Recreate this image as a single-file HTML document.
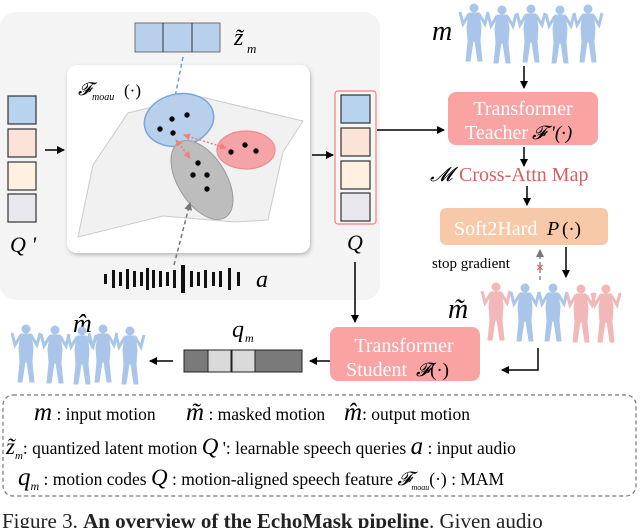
<!DOCTYPE html><html><head><meta charset="utf-8"><style>body{margin:0;background:#fff}svg{display:block}text{font-family:"Liberation Serif",serif}</style></head><body>
<svg width="640" height="528" viewBox="0 0 640 528" xmlns="http://www.w3.org/2000/svg">
<defs>
<marker id="ah" markerWidth="8" markerHeight="8" refX="7" refY="4" orient="auto" markerUnits="userSpaceOnUse"><path d="M0,0 L8,4 L0,8 z" fill="#000"/></marker>
<marker id="ab" markerWidth="8" markerHeight="8" refX="7" refY="4" orient="auto" markerUnits="userSpaceOnUse"><path d="M0,0 L8,4 L0,8 z" fill="#6a9be0"/></marker>
<marker id="ag" markerWidth="8" markerHeight="8" refX="7" refY="4" orient="auto" markerUnits="userSpaceOnUse"><path d="M0,0 L8,4 L0,8 z" fill="#777"/></marker>
<marker id="ar" markerWidth="7" markerHeight="7" refX="6" refY="3.5" orient="auto-start-reverse" markerUnits="userSpaceOnUse"><path d="M0,0 L7,3.5 L0,7 z" fill="#f08080"/></marker>
<filter id="sh"><feDropShadow dx="1" dy="2" stdDeviation="2" flood-opacity="0.25"/></filter>
<g id="fig"><circle cx="0" cy="4" r="4"/><path d="M-5,9 h10 l2,14 l-1,14 l2,20 h-4 l-3,-20 h-2 l-3,20 h-4 l2,-20 l-1,-14 z"/><path d="M-5,10 l-6,10 l-3,-12 M5,10 l6,10 l3,-12" stroke-width="3" fill="none"/></g>
</defs>
<rect x="0" y="12" width="380" height="288" rx="16" fill="#f4f4f4"/>
<rect x="135" y="23" width="85" height="29" fill="#b8d0ec" stroke="#555" stroke-width="0.8"/>
<line x1="163" y1="23" x2="163" y2="52" stroke="#333"/><line x1="192" y1="23" x2="192" y2="52" stroke="#333"/>
<text x="234" y="45" font-size="24" font-style="italic">z̃</text><text x="247" y="53" font-size="13" font-style="italic">m</text>
<rect x="67" y="65" width="243" height="188" rx="10" fill="#fff" filter="url(#sh)"/>
<text x="78" y="95" font-size="18" font-style="italic">𝓕</text><text x="92" y="100" font-size="10" font-style="italic">moau</text><text x="124" y="96" font-size="17">(·)</text>
<polygon points="78,237 93,165 128,113 197,96 303,121 283,152 268,220 235,222 163,216" fill="#f1f1f1" stroke="#ccc"/>
<line x1="183" y1="57" x2="174" y2="102" stroke="#6a9be0" stroke-width="1.5" stroke-dasharray="4,3" marker-end="url(#ab)"/>
<ellipse cx="179" cy="120" rx="35" ry="26" transform="rotate(-12 179 120)" fill="#b8d0ec" stroke="#7aa4dc" stroke-width="1.5"/>
<ellipse cx="246" cy="150" rx="29" ry="19" fill="#f4a4a6" stroke="#ee8a8e" stroke-width="1.2"/>
<ellipse cx="202" cy="180" rx="24" ry="44" transform="rotate(-32 202 180)" fill="#bdbdbd" stroke="#999"/>
<line x1="184" y1="135" x2="226" y2="148" stroke="#f08080" stroke-width="1.5" stroke-dasharray="2,2" marker-start="url(#ar)" marker-end="url(#ar)"/>
<line x1="176" y1="140" x2="190" y2="158" stroke="#f08080" stroke-width="1.5" stroke-dasharray="2,2" marker-start="url(#ar)" marker-end="url(#ar)"/>
<g fill="#000"><circle cx="172" cy="119" r="2.7"/><circle cx="187" cy="115" r="2.7"/><circle cx="160" cy="129" r="2.7"/><circle cx="173" cy="133" r="2.7"/>
<circle cx="231" cy="152" r="2.7"/><circle cx="245" cy="145" r="2.7"/><circle cx="256" cy="151" r="2.7"/>
<circle cx="198" cy="163" r="2.7"/><circle cx="193" cy="175" r="2.7"/><circle cx="207" cy="175" r="2.7"/><circle cx="207" cy="189" r="2.7"/></g>
<line x1="174" y1="265" x2="190" y2="203" stroke="#777" stroke-width="1.5" stroke-dasharray="4,3" marker-end="url(#ag)"/>
<g fill="#111"><rect x="104" y="274" width="3" height="10"/><rect x="112" y="270" width="3" height="18"/><rect x="119" y="272" width="3" height="14"/><rect x="126" y="269" width="3" height="20"/><rect x="133" y="271" width="3" height="16"/><rect x="140" y="272" width="3" height="14"/><rect x="146" y="268" width="3" height="22"/><rect x="152" y="270" width="3" height="18"/><rect x="159" y="271" width="3" height="16"/><rect x="166" y="272" width="3" height="14"/><rect x="173" y="270" width="3" height="18"/><rect x="181" y="265" width="4" height="28"/><rect x="190" y="271" width="3" height="16"/><rect x="197" y="272" width="3" height="14"/><rect x="204" y="270" width="3" height="18"/><rect x="212" y="272" width="3" height="14"/><rect x="219" y="271" width="3" height="16"/><rect x="228" y="268" width="3" height="22"/><rect x="237" y="272" width="3" height="14"/></g>
<text x="256" y="287" font-size="24" font-style="italic">a</text>
<g stroke="#333" stroke-width="1.2"><rect x="8" y="96" width="28" height="28" fill="#b8d3ee"/><rect x="8" y="129" width="28" height="28" fill="#fbe3d8"/><rect x="8" y="162" width="28" height="28" fill="#fff0df"/><rect x="8" y="194" width="28" height="28" fill="#e8e8ee"/></g>
<text x="10" y="252" font-size="22" font-style="italic">Q '</text>
<line x1="45" y1="150" x2="64" y2="150" stroke="#000" stroke-width="1.5" marker-end="url(#ah)"/>
<line x1="312" y1="155" x2="333" y2="155" stroke="#000" stroke-width="1.5" marker-end="url(#ah)"/>
<rect x="335" y="91" width="41" height="133" rx="3" fill="#f6f6f6" stroke="#f08080" stroke-width="1.2"/>
<g stroke="#333" stroke-width="1.2"><rect x="341" y="95" width="29" height="28" fill="#b8d3ee"/><rect x="341" y="128" width="29" height="28" fill="#fbe3d8"/><rect x="341" y="161" width="29" height="28" fill="#fff0df"/><rect x="341" y="193" width="29" height="28" fill="#e8e8ee"/></g>
<text x="347" y="250" font-size="22" font-style="italic">Q</text>
<line x1="377" y1="130" x2="444" y2="130" stroke="#000" stroke-width="1.5" marker-end="url(#ah)"/>
<line x1="355" y1="262" x2="355" y2="322" stroke="#000" stroke-width="1.5" marker-end="url(#ah)"/>
<text x="432" y="40" font-size="28" font-style="italic">m</text>
<g fill="#a9c6ea" stroke="#a9c6ea"><use href="#fig" transform="translate(474,4)"/><use href="#fig" transform="translate(502,6)"/><use href="#fig" transform="translate(531,5)"/><use href="#fig" transform="translate(560,6)"/><use href="#fig" transform="translate(588,5)"/></g>
<line x1="524" y1="66" x2="524" y2="88" stroke="#000" stroke-width="1.5" marker-end="url(#ah)"/>
<rect x="448" y="92" width="150" height="53" rx="8" fill="#f9a3a3"/>
<text x="523" y="115" font-size="20" fill="#fff" text-anchor="middle">Transformer</text>
<text x="465" y="139" font-size="20" fill="#fff">Teacher</text><text x="532" y="139" font-size="19" font-style="italic">𝓕 '(·)</text>
<line x1="524" y1="147" x2="524" y2="166" stroke="#000" stroke-width="1.5" marker-end="url(#ah)"/>
<text x="430" y="181" font-size="20" font-style="italic">𝓜</text><text x="459" y="181" font-size="20" fill="#d86060">Cross-Attn Map</text>
<line x1="527" y1="186" x2="527" y2="205" stroke="#000" stroke-width="1.5" marker-end="url(#ah)"/>
<rect x="440" y="208" width="168" height="37" rx="6" fill="#f8c9a9"/>
<text x="454" y="235" font-size="20" fill="#fff">Soft2Hard</text><text x="547" y="235" font-size="20" font-style="italic">P</text><text x="562" y="235" font-size="19">(·)</text>
<text x="432" y="268" font-size="15">stop gradient</text>
<line x1="540" y1="280" x2="540" y2="250" stroke="#888" stroke-width="1.5" stroke-dasharray="4,3" marker-end="url(#ag)"/>
<text x="540" y="272" font-size="14" fill="#d33" font-weight="bold" text-anchor="middle" font-family="Liberation Sans">×</text>
<line x1="566" y1="247" x2="566" y2="277" stroke="#000" stroke-width="1.5" marker-end="url(#ah)"/>
<text x="448" y="318" font-size="28" font-style="italic">m̃</text>
<g fill="#f2b8b8" stroke="#f2b8b8"><use href="#fig" transform="translate(496,283)"/></g>
<g fill="#a9c6ea" stroke="#a9c6ea"><use href="#fig" transform="translate(525,284)"/><use href="#fig" transform="translate(553,284)"/></g>
<g fill="#f2b8b8" stroke="#f2b8b8"><use href="#fig" transform="translate(581,285)"/><use href="#fig" transform="translate(606,285)"/></g>
<polyline points="538,348 538,370 502,370" fill="none" stroke="#000" stroke-width="1.5" marker-end="url(#ah)"/>
<rect x="330" y="327" width="150" height="54" rx="8" fill="#f9a3a3"/>
<text x="404" y="352" font-size="20" fill="#fff" text-anchor="middle">Transformer</text>
<text x="346" y="376" font-size="20" fill="#fff">Student</text><text x="416" y="376" font-size="19" font-style="italic">𝓕</text><text x="430" y="376" font-size="19">(·)</text>
<line x1="330" y1="361" x2="310" y2="361" stroke="#000" stroke-width="1.5" marker-end="url(#ah)"/>
<text x="232" y="337" font-size="24" font-style="italic">q</text><text x="245" y="342" font-size="12" font-style="italic">m</text>
<rect x="184" y="350" width="118" height="22" fill="#7a7a7a" stroke="#222"/>
<rect x="208" y="350" width="23" height="22" fill="#dadada" stroke="#222"/><rect x="232" y="350" width="23" height="22" fill="#dadada" stroke="#222"/>
<line x1="173" y1="361" x2="150" y2="361" stroke="#000" stroke-width="1.5" marker-end="url(#ah)"/>
<text x="73" y="332" font-size="26" font-style="italic">m̂</text>
<g fill="#a9c6ea" stroke="#a9c6ea"><use href="#fig" transform="translate(26,325)"/><use href="#fig" transform="translate(55,326)"/><use href="#fig" transform="translate(82,327)"/><use href="#fig" transform="translate(103,325)"/><use href="#fig" transform="translate(130,327)"/></g>
<rect x="3" y="395" width="633" height="101" rx="10" fill="none" stroke="#777" stroke-width="1.2" stroke-dasharray="4,3"/>
<g font-size="17.5">
<text x="34" y="420"><tspan font-size="25" font-style="italic">m</tspan> : input motion</text>
<text x="186" y="420"><tspan font-size="25" font-style="italic">m̃</tspan> : masked motion</text>
<text x="344" y="420"><tspan font-size="25" font-style="italic">m̂</tspan>: output motion</text>
<text x="6" y="454"><tspan font-size="23" font-style="italic">z̃</tspan><tspan font-size="11" font-style="italic" dy="5">m</tspan><tspan dy="-5">: quantized latent motion </tspan><tspan font-size="23" font-style="italic">Q</tspan> ': learnable speech queries   <tspan font-size="25" font-style="italic">a</tspan> : input audio</text>
<text x="18" y="485"><tspan font-size="25" font-style="italic">q</tspan><tspan font-size="12" font-style="italic" dy="5">m</tspan><tspan dy="-5"> : motion codes </tspan><tspan font-size="23" font-style="italic">Q</tspan> : motion-aligned speech feature  <tspan font-size="19" font-style="italic">𝓕</tspan><tspan font-size="8" font-style="italic" dy="5">moau</tspan><tspan dy="-5">(·) : MAM</tspan></text>
</g>
<text x="2" y="528" font-size="21" fill="#222">Figure 3. <tspan font-weight="bold">An overview of the EchoMask pipeline</tspan>. Given audio</text>
</svg>
</body></html>
